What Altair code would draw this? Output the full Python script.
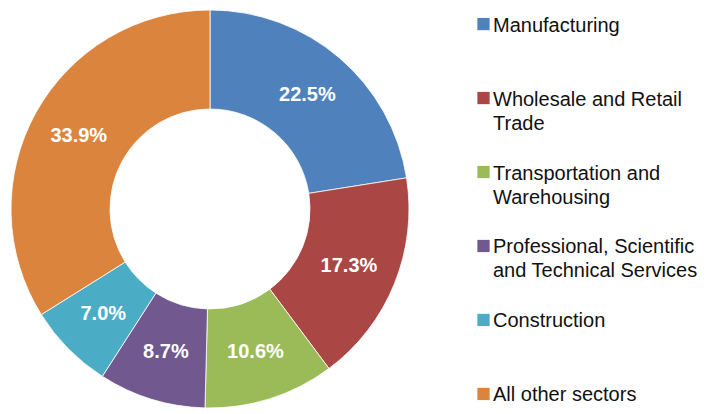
import altair as alt
import pandas as pd

categories = [
    "Manufacturing",
    "Wholesale and Retail Trade",
    "Transportation and Warehousing",
    "Professional, Scientific and Technical Services",
    "Construction",
    "All other sectors",
]
legend_text = [
    "Manufacturing",
    "Wholesale and Retail\nTrade",
    "Transportation and\nWarehousing",
    "Professional, Scientific\nand Technical  Services",
    "Construction",
    "All other sectors",
]
values = [22.5, 17.3, 10.6, 8.7, 7.0, 33.9]
pct_labels = ["22.5%", "17.3%", "10.6%", "8.7%", "7.0%", "33.9%"]
colors = ["#4F81BD", "#AA4644", "#9BBB59", "#71588F", "#4BACC6", "#DB843D"]

df = pd.DataFrame({
    "sector": categories,
    "legend": legend_text,
    "value": values,
    "label": pct_labels,
    "idx": list(range(len(categories))),
})

color_scale = alt.Scale(domain=categories, range=colors)

base = alt.Chart(df).encode(
    theta=alt.Theta("value:Q", stack=True),
    order=alt.Order("idx:Q"),
)

arcs = base.mark_arc(innerRadius=100, outerRadius=199, stroke="white", strokeWidth=0.8).encode(
    color=alt.Color("sector:N", scale=color_scale, legend=None)
)

texts = base.mark_text(
    radius=150, font="Liberation Sans", fontSize=20, fontWeight="bold", color="white"
).encode(text="label:N")

donut = alt.layer(arcs, texts).properties(width=404, height=398)

ypos = alt.Y("sector:N", scale=alt.Scale(type="point", domain=categories, padding=0.19), axis=None)

squares = alt.Chart(df).mark_square(size=150, opacity=1).encode(
    x=alt.value(6.5),
    y=ypos,
    color=alt.Color("sector:N", scale=color_scale, legend=None),
)

leg_text = alt.Chart(df).transform_calculate(
    lines="split(datum.legend, '\\n')"
).mark_text(
    align="left", baseline="alphabetic", dy=7.5, font="Liberation Sans",
    fontSize=20, lineHeight=24, color="#111111"
).encode(
    x=alt.value(16),
    y=ypos,
    text="lines:N",
)

legend_panel = alt.layer(squares, leg_text).properties(width=230, height=398)

chart = alt.hconcat(donut, legend_panel, spacing=65).properties(
    padding=0
).configure_view(stroke=None)

chart.save("out.html", embed_options={"renderer": "svg", "actions": False})
